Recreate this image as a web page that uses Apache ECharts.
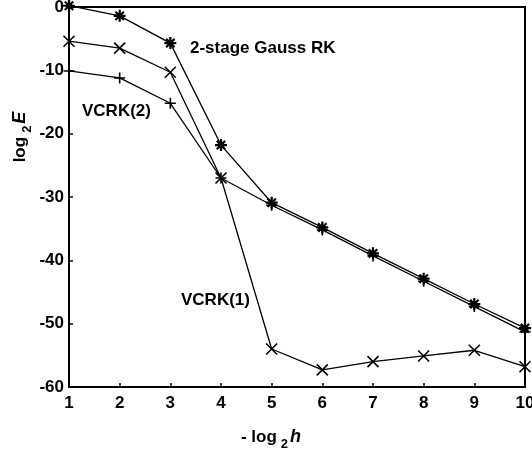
<!DOCTYPE html>
<html><head><meta charset="utf-8">
<script src="https://cdn.jsdelivr.net/npm/echarts@6/dist/echarts.min.js"></script>
<style>html,body{margin:0;padding:0;background:#fff}#c{width:532px;height:452px}</style>
</head><body><div id="c"></div>
<script>
const xVals = [1,2,3,4,5,6,7,8,9,10];
const gaussRK = [0.2,-1.4,-5.7,-21.8,-30.9,-34.8,-38.9,-42.9,-46.9,-50.7];
const vcrk1 = [-5.4,-6.5,-10.3,-27.0,-54.0,-57.3,-56.0,-55.1,-54.2,-56.8];
const vcrk2 = [-10.1,-11.2,-15.2,-27.0,-31.3,-35.2,-39.3,-43.3,-47.3,-51.3];
const xTicks = [1,2,3,4,5,6,7,8,9,10];
const yTicks = [0,-10,-20,-30,-40,-50,-60];

const font = '"Liberation Sans", Arial, sans-serif';
const star = 'path://M0,-10L0,10M-10,0L10,0M-7,-7L7,7M-7,7L7,-7';
const cross = 'path://M-10,-10L10,10M-10,10L10,-10';
const plus = 'path://M0,-10L0,10M-10,0L10,0';
function pairs(ys){ return xVals.map((x,i)=>[x, ys[i]]); }
function ser(name, ys, sym, size, bw){
  return {name, type:'line', data:pairs(ys), symbol:sym, symbolSize:size, clip:false,
    lineStyle:{color:'#000', width:1.3},
    itemStyle:{color:'rgba(0,0,0,0)', borderColor:'#000', borderWidth:bw},
    emphasis:{disabled:true}, animation:false, z:3};
}
const nameRich = {
  n:{fontSize:17, fontWeight:'bold', fontFamily:font, fill:'#000'},
  sub:{fontSize:13, fontWeight:'bold', fontFamily:font, padding:[14,2,0,4], fill:'#000'},
  it:{fontSize:18, fontStyle:'italic', fontWeight:'bold', fontFamily:font, fill:'#000'}
};
const chart = echarts.init(document.getElementById('c'));
chart.setOption({
  backgroundColor:'#fff',
  animation:false,
  grid:{left:69, right:7, top:7, bottom:65, show:true, borderColor:'#000', borderWidth:2,
    containLabel:false, outerBoundsMode:'none'},
  xAxis:{type:'value', min:1, max:10, interval:1,
    axisLine:{show:true, onZero:false, lineStyle:{color:'#000', width:2}},
    axisTick:{show:true, inside:true, length:4, lineStyle:{color:'#000', width:1.5}},
    splitLine:{show:false},
    axisLabel:{color:'#000', fontFamily:font, fontSize:17, fontWeight:'bold', margin:8,
      formatter:v=>xTicks.includes(v)?String(v):''}
  },
  yAxis:{type:'value', min:-60, max:0, interval:10,
    axisLine:{show:true, onZero:false, lineStyle:{color:'#000', width:2}},
    axisTick:{show:true, inside:true, length:4, lineStyle:{color:'#000', width:1.5}},
    splitLine:{show:false},
    axisLabel:{color:'#000', fontFamily:font, fontSize:17, fontWeight:'bold', margin:5,
      formatter:v=>yTicks.includes(v)?String(v):''}
  },
  series:[
    ser('2-stage Gauss RK', gaussRK, star, 12, 2.2),
    ser('VCRK(1)', vcrk1, cross, 11, 1.6),
    ser('VCRK(2)', vcrk2, plus, 11, 1.6)
  ],
  graphic:[
    {type:'text', left:190, top:40, style:{text:'2-stage Gauss RK', font:'bold 17px '+font, fill:'#000'}},
    {type:'text', left:82, top:103, style:{text:'VCRK(2)', font:'bold 17px '+font, fill:'#000'}},
    {type:'text', left:181, top:292, style:{text:'VCRK(1)', font:'bold 17px '+font, fill:'#000'}},
    {type:'text', x:271, y:437, style:{text:'{n|- log}{sub|2}{it|h}', rich:nameRich, align:'center', verticalAlign:'middle'}},
    {type:'text', x:20, y:137, rotation:Math.PI/2, style:{text:'{n|log}{sub|2}{it|E}', rich:nameRich, align:'center', verticalAlign:'middle'}}
  ]
});
</script></body></html>
